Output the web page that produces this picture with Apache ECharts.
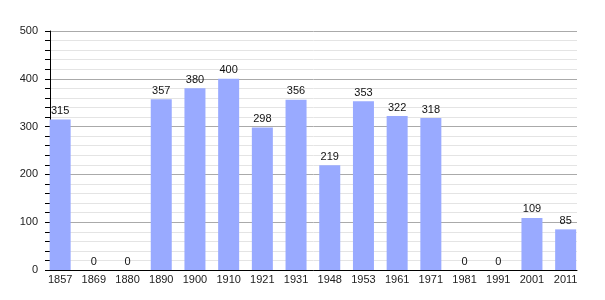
<!DOCTYPE html>
<html><head><meta charset="utf-8">
<script src="https://cdn.jsdelivr.net/npm/echarts@6/dist/echarts.min.js"></script>
<style>html,body{margin:0;padding:0;background:#fff}#c{width:605px;height:300px}</style>
</head><body><div id="c"></div>
<script>
const years = ['1857','1869','1880','1890','1900','1910','1921','1931','1948','1953','1961','1971','1981','1991','2001','2011'];
const population = [315,0,0,357,380,400,298,356,219,353,322,318,0,0,109,85];
const yTicks = {min:0, max:500, interval:100};
const font = 'Liberation Sans, Arial, sans-serif';
const chart = echarts.init(document.getElementById('c'), null, {renderer:'canvas'});
chart.setOption({
  animation:false,
  backgroundColor:'#fff',
  grid:[
    {left:50, right:28, top:31, bottom:30},
    {left:43.3, width:539.2, top:31, bottom:30}
  ],
  xAxis:[
    {gridIndex:0, type:'value', min:0, max:1, show:true,
     axisLine:{show:true, onZero:false, lineStyle:{color:'#000', width:1}},
     axisTick:{show:false}, axisLabel:{show:false}, splitLine:{show:false}},
    {gridIndex:1, type:'category', data:years,
     axisLine:{show:false}, axisTick:{show:false},
     axisLabel:{fontFamily:font, fontSize:11, color:'#222', margin:4, interval:0}}
  ],
  yAxis:[
    {gridIndex:0, type:'value', min:yTicks.min, max:yTicks.max, interval:yTicks.interval,
     axisLine:{show:true, lineStyle:{color:'#000'}},
     axisTick:{show:true, length:5, lineStyle:{color:'#000'}},
     minorTick:{show:true, splitNumber:5, length:5, lineStyle:{color:'#000'}},
     axisLabel:{fontFamily:font, fontSize:11, color:'#222', margin:12},
     splitLine:{show:true, lineStyle:{color:'#aaa'}},
     minorSplitLine:{show:true, lineStyle:{color:'#e4e4e4'}}},
    {gridIndex:1, type:'value', min:yTicks.min, max:yTicks.max, show:false, splitLine:{show:false}}
  ],
  series:[{
    type:'bar', xAxisIndex:1, yAxisIndex:1, data:population, barWidth:21,
    itemStyle:{color:'#99aaff'},
    label:{show:true, position:'top', distance:3, fontFamily:font, fontSize:11, color:'#111'}
  }]
});
</script></body></html>
